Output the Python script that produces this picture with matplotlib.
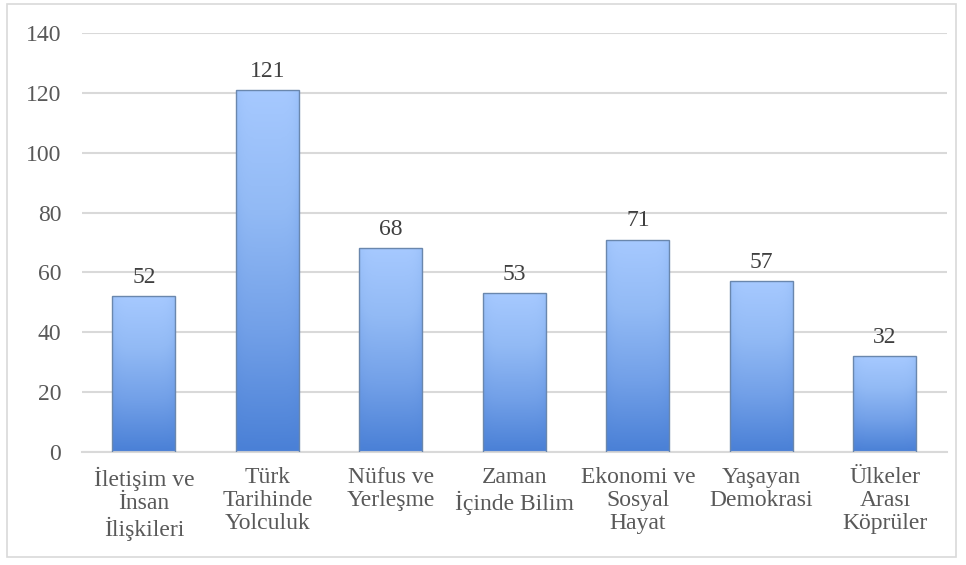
import matplotlib.pyplot as plt
import numpy as np
from matplotlib.colors import LinearSegmentedColormap
from matplotlib.patches import Rectangle

categories = ['İletişim ve\nİnsan\nİlişkileri', 'Türk\nTarihinde\nYolculuk', 'Nüfus ve\nYerleşme',
              'Zaman\nİçinde Bilim', 'Ekonomi ve\nSosyal\nHayat', 'Yaşayan\nDemokrasi',
              'Ülkeler\nArası\nKöprüler']
values = [52, 121, 68, 53, 71, 57, 32]
yticks = [0, 20, 40, 60, 80, 100, 120, 140]

plt.rcParams['font.family'] = ['Liberation Serif', 'DejaVu Serif']

fig = plt.figure(figsize=(9.66, 5.65), dpi=100)
ax = fig.add_axes([0.085, 0.2, 0.895, 0.7416])

# outer chart border
fig.patches.append(Rectangle((7 / 966, 8 / 565), 949 / 966, 553 / 565, transform=fig.transFigure,
                             fill=False, edgecolor='#d9d9d9', linewidth=1.2))

x = np.arange(len(categories))
w = 0.51

# gradient: light on top, darker blue at bottom, darker towards the side edges
cmap = LinearSegmentedColormap.from_list('bar', ['#4a80d6', '#72a0e8', '#92baf5', '#a6c9ff'])
ny, nx = 200, 60
vert = np.linspace(0, 1, ny)[:, None]
horiz = np.linspace(-1, 1, nx)[None, :]
grad = vert * (1 - 0.18 * np.abs(horiz) ** 6)

bars = ax.bar(x, values, width=w, color='none', edgecolor='#6a87ad', linewidth=1.0, zorder=3)
for b in bars:
    bx, by = b.get_x(), b.get_y()
    bw, bh = b.get_width(), b.get_height()
    im = ax.imshow(grad, cmap=cmap, origin='lower', aspect='auto', vmin=0, vmax=1,
                   extent=(bx, bx + bw, by, by + bh), zorder=2, interpolation='bilinear')
    im.set_clip_path(b)

for xi, v in zip(x, values):
    ax.annotate(str(v), (xi, v), xytext=(0, 6), textcoords='offset points',
                ha='center', va='bottom', fontsize=17, color='#404040')

ax.set_xlim(-0.5, len(categories) - 0.5)
ax.set_ylim(0, 140)
ax.set_yticks(yticks)
ax.set_xticks(x)
ax.set_xticklabels(categories, fontsize=17, color='#595959', linespacing=1.12)
ax.tick_params(axis='y', labelsize=17, labelcolor='#595959', length=0, pad=15)
ax.tick_params(axis='x', length=0, pad=11)
ax.grid(axis='y', color='#d9d9d9', linewidth=1.5, zorder=0)
ax.set_axisbelow(True)
for s in ['top', 'right', 'left']:
    ax.spines[s].set_visible(False)
ax.spines['bottom'].set_color('#d9d9d9')
ax.spines['bottom'].set_linewidth(1.5)

fig.savefig('out.png', dpi=100)
